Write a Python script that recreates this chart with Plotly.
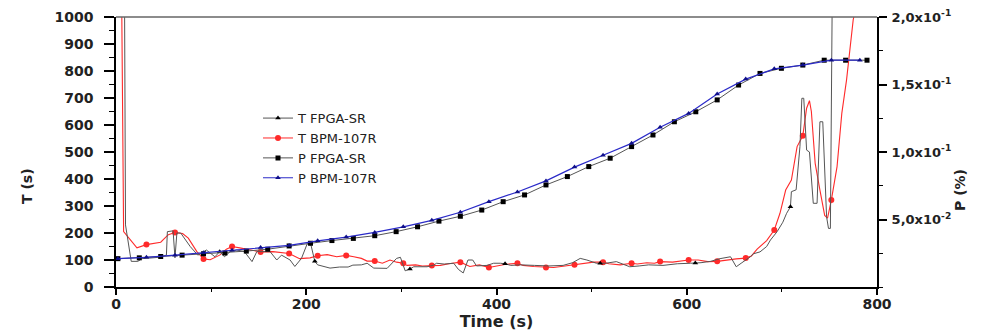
import plotly.graph_objects as go

# ---------------- data ----------------
# T FPGA-SR  (left axis, s)
t_T_fpga = [0, 9, 10, 12, 16, 23, 27, 35, 45, 53, 54, 60, 62, 64, 68, 78, 86, 95, 104, 109,
            114, 120, 127, 135, 143, 148, 162, 169, 174, 183, 188, 195, 201, 205, 209, 212, 225, 235, 244, 249,
            258, 264, 271, 285, 295, 299, 304, 309, 313, 327, 334, 337, 345, 355, 360, 365, 370, 375, 379, 390,
            397, 404, 409, 415, 425, 440, 455, 470, 480, 488, 495, 505, 509, 515, 526, 535, 540, 550, 560, 575,
            590, 604, 609, 615, 625, 635, 646, 652, 658, 667, 670, 677, 684, 688, 695, 701, 705, 709, 710, 715,
            719, 721, 723, 724, 726, 729, 733, 737, 740, 743, 747, 749, 751, 753, 800]
T_fpga = [1050, 1050, 230, 185, 95, 95, 105, 107, 110, 118, 205, 208, 108, 200, 200, 150, 118, 137, 112, 131,
          112, 131, 137, 131, 94, 131, 131, 100, 118, 100, 76, 106, 160, 155, 95, 82, 70, 74, 74, 81,
          82, 88, 70, 69, 106, 110, 60, 67, 75, 75, 81, 88, 85, 88, 65, 52, 100, 100, 78, 80,
          88, 88, 86, 80, 82, 80, 78, 80, 90, 106, 100, 88, 88, 88, 94, 80, 75, 78, 82, 80,
          86, 88, 89, 90, 95, 105, 112, 75, 90, 112, 123, 130, 150, 174, 205, 240, 273, 297, 353, 360,
          520, 699, 699, 644, 507, 500, 310, 310, 612, 612, 260, 217, 217, 1100, 1100]

# T BPM-107R  (left axis, s)
t_T_bpm = [0, 2, 6, 8, 14, 22, 32, 40, 47, 55, 62, 70, 76, 85, 92, 99, 109, 116, 122, 130,
           140, 152, 165, 173, 182, 193, 204, 212, 222, 232, 242, 250, 258, 264, 272, 280, 288, 295, 302, 306,
           315, 322, 332, 341, 350, 362, 372, 382, 392, 400, 410, 422, 428, 439, 452, 460, 472, 482, 492, 502,
           512, 518, 530, 542, 548, 558, 566, 572, 585, 592, 602, 612, 622, 632, 642, 652, 662, 668, 674, 684,
           692, 698, 704, 710, 716, 722, 726, 729, 731, 735, 740, 745, 748, 752, 758, 763, 768, 775, 782]
T_bpm = [1050, 1050, 1050, 205, 178, 145, 157, 162, 166, 194, 202, 198, 181, 131, 104, 101, 118, 140, 150, 145,
         137, 130, 131, 128, 124, 105, 108, 116, 120, 112, 117, 112, 106, 96, 96, 88, 100, 92, 88, 80,
         82, 78, 80, 80, 86, 92, 76, 82, 72, 78, 84, 88, 80, 76, 72, 72, 78, 82, 88, 92,
         92, 86, 82, 88, 85, 90, 88, 94, 92, 96, 100, 100, 94, 95, 100, 104, 107, 115, 140, 172,
         211, 273, 359, 396, 520, 560, 662, 690, 650, 458, 359, 265, 255, 322, 446, 643, 767, 990, 1100]

# P FPGA-SR  (right axis, %)
t_P_fpga = [2, 24.5, 47, 69.5, 92, 114.5, 137, 159.5, 182, 204.5, 227, 249.5, 272, 294.5, 317, 339.5,
            362, 384.5, 407, 429.5, 452, 474.5, 497, 519.5, 542, 564.5, 587, 609.5, 632, 654.5, 677, 699.5,
            722, 744.5, 767, 789.5]
P_fpga = [0.0210, 0.0216, 0.0226, 0.0236, 0.0246, 0.0252, 0.0266, 0.0280, 0.0304, 0.0324, 0.0344, 0.0360,
          0.0380, 0.0410, 0.0446, 0.0488, 0.0524, 0.0570, 0.0632, 0.0682, 0.0756, 0.0818, 0.0892, 0.0954,
          0.1040, 0.1126, 0.1224, 0.1298, 0.1386, 0.1496, 0.1582, 0.1620, 0.1644, 0.1680, 0.1680, 0.1680]

# P BPM-107R  (right axis, %)
t_P_bpm = [2, 32, 62, 92, 122, 152, 182, 212, 242, 272, 302, 332, 362, 392, 422, 452, 482, 512, 542,
           572, 602, 632, 662, 692, 722, 752, 782]
P_bpm = [0.0210, 0.0220, 0.0236, 0.0254, 0.0272, 0.0292, 0.0308, 0.0342, 0.0370, 0.0404, 0.0446, 0.0494,
         0.0554, 0.0632, 0.0704, 0.0786, 0.0888, 0.0976, 0.1064, 0.1184, 0.1286, 0.1430, 0.1540, 0.1616,
         0.1644, 0.1680, 0.1680]

x_tickvals = [0, 200, 400, 600, 800]
y2_tickvals = [0.05, 0.1, 0.15, 0.2]
y2_ticktext = ["5,0x10<sup>-2</sup>", "1,0x10<sup>-1</sup>", "1,5x10<sup>-1</sup>", "2,0x10<sup>-1</sup>"]

assert len(t_T_fpga) == len(T_fpga)
assert len(t_T_bpm) == len(T_bpm)
assert len(t_P_fpga) == len(P_fpga)
assert len(t_P_bpm) == len(P_bpm)

# marker subsets taken from the series themselves
mk_fpga = [i for i, t in enumerate(t_T_fpga) if t >= 100 and (t - 9) % 100 == 0]
mk_bpm = [i for i, t in enumerate(t_T_bpm) if t >= 30 and (t - 2) % 30 == 0]

GRAY = "#555555"
RED = "#ff2a2a"
BLUE = "#2a2ac8"
DBLUE = "#10108a"

fig = go.Figure()

# legend entries (order as in reference)
legend_items = [
    ("T FPGA-SR", GRAY, "triangle-up", "black", 5, "Tf"),
    ("T BPM-107R", RED, "circle", RED, 6, "Tb"),
    ("P FPGA-SR", GRAY, "square", "black", 5, "Pf"),
    ("P BPM-107R", BLUE, "triangle-up", DBLUE, 5, "Pb"),
]
for name, lc, sym, mc, ms, grp in legend_items:
    fig.add_trace(go.Scatter(x=[None], y=[None], mode="lines+markers", name=name,
                             legendgroup=grp, line=dict(color=lc, width=1),
                             marker=dict(symbol=sym, color=mc, size=ms)))

# P series (right axis)
fig.add_trace(go.Scatter(x=t_P_fpga, y=P_fpga, yaxis="y2", mode="lines+markers", legendgroup="Pf",
                         showlegend=False, line=dict(color=GRAY, width=1),
                         marker=dict(symbol="square", color="black", size=5)))
fig.add_trace(go.Scatter(x=t_P_bpm, y=P_bpm, yaxis="y2", mode="lines+markers", legendgroup="Pb",
                         showlegend=False, line=dict(color=BLUE, width=1.2),
                         marker=dict(symbol="triangle-up", color=DBLUE, size=5)))

# T series (left axis)
fig.add_trace(go.Scatter(x=t_T_bpm, y=T_bpm, mode="lines", legendgroup="Tb", showlegend=False,
                         line=dict(color=RED, width=1.1)))
fig.add_trace(go.Scatter(x=[t_T_bpm[i] for i in mk_bpm], y=[T_bpm[i] for i in mk_bpm], mode="markers",
                         legendgroup="Tb", showlegend=False,
                         marker=dict(symbol="circle", color=RED, size=6)))
fig.add_trace(go.Scatter(x=t_T_fpga, y=T_fpga, mode="lines", legendgroup="Tf", showlegend=False,
                         line=dict(color=GRAY, width=1)))
fig.add_trace(go.Scatter(x=[t_T_fpga[i] for i in mk_fpga], y=[T_fpga[i] for i in mk_fpga], mode="markers",
                         legendgroup="Tf", showlegend=False,
                         marker=dict(symbol="triangle-up", color="black", size=5)))

tickfont = dict(family="DejaVu Sans", size=14, color="#222", weight="bold")

# the page body adds an 8 px offset, so the figure is sized to fill the rest of the window
fig.update_layout(
    width=973, height=325,
    margin=dict(l=108, r=104, t=9, b=46, autoexpand=False),
    paper_bgcolor="white", plot_bgcolor="white",
    font=dict(family="DejaVu Sans", color="#222"),
    xaxis=dict(range=[0, 800], tickmode="array", tickvals=x_tickvals, ticks="outside", ticklen=6,
               tickwidth=1.5, tickcolor="black", showline=True, linecolor="black", linewidth=1.5,
               showgrid=False, zeroline=False, tickfont=tickfont, automargin=False,
               ticklabelstandoff=-3,
               minor=dict(dtick=100, ticks="outside", ticklen=3, tickcolor="black", tickwidth=1),
               title=dict(text="Time (s)", font=dict(family="DejaVu Sans", size=16, color="#222",
                                                    weight="bold"), standoff=0)),
    yaxis=dict(range=[0, 1000], dtick=100, ticks="outside", ticklen=10, tickwidth=1.5, tickcolor="black",
               showline=True, linecolor="black", linewidth=1.5, showgrid=False, zeroline=False,
               tickfont=tickfont, ticklabelstandoff=8, automargin=False,
               minor=dict(dtick=50, ticks="outside", ticklen=5, tickcolor="black", tickwidth=1)),
    yaxis2=dict(range=[0, 0.2], overlaying="y", side="right", tickmode="array", tickvals=y2_tickvals,
                ticktext=y2_ticktext, ticks="outside", ticklen=8, tickwidth=1.5, tickcolor="black",
                showline=True, linecolor="black", linewidth=2, showgrid=False, zeroline=False,
                tickfont=dict(family="DejaVu Sans", size=13, color="#222", weight="bold"),
                ticklabelstandoff=2, automargin=False,
                minor=dict(tickmode="linear", tick0=0, dtick=0.025, ticks="outside", ticklen=4,
                           tickcolor="black", tickwidth=1)),
    legend=dict(x=(258 - 116) / 761, y=0.681, xanchor="left", yanchor="top",
                bgcolor="rgba(0,0,0,0)", font=dict(family="DejaVu Sans", size=13, color="#222"),
                tracegroupgap=0, itemwidth=30),
    shapes=[dict(type="line", xref="paper", yref="paper", x0=0, x1=1, y0=1, y1=1,
                 line=dict(color="#666", width=1.5))],
    annotations=[
        dict(text="T (s)", xref="paper", yref="paper", x=(27 - 116) / 761, y=(287 - 186) / 270,
             xanchor="center", yanchor="middle", textangle=-90, showarrow=False,
             font=dict(family="DejaVu Sans", size=14, color="#222", weight="bold")),
        dict(text="P (%)", xref="paper", yref="paper", x=(960 - 116) / 761, y=(287 - 190) / 270,
             xanchor="center", yanchor="middle", textangle=-90, showarrow=False,
             font=dict(family="DejaVu Sans", size=14, color="#222", weight="bold")),
    ],
)

fig.write_html("out.html")
